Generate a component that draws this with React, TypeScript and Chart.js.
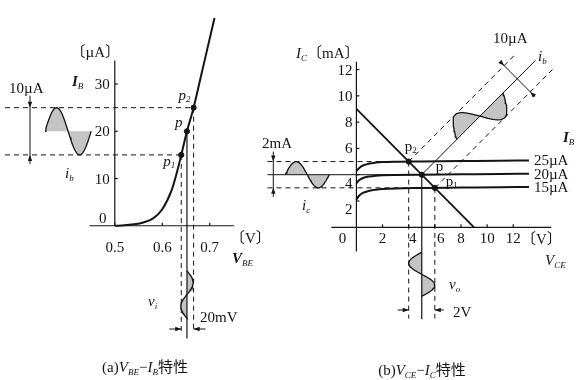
import { useEffect, useRef } from "react";
import { Chart, registerables } from "chart.js";

Chart.register(...registerables);

// ---------------- (a) VBE – IB characteristic ----------------
const vbeValues = [0.5, 0.52, 0.54, 0.56, 0.58, 0.6, 0.62, 0.63, 0.64, 0.652, 0.666, 0.68, 0.695, 0.71];
const ibValues = [0, 0.08, 0.3, 0.7, 1.5, 3.5, 7.6, 11, 15, 20, 25, 31, 37.5, 44];
const vbeTicks = [0.5, 0.6, 0.7];
const vbeTickLabels = ["0.5", "0.6", "0.7"];
const ibTicks = [10, 20, 30];
const ibQ = 20; // µA
const ibSwing = 5; // µA
const vbeQ = 0.652;
const vbeP1 = 0.64;
const vbeP2 = 0.666;

// ---------------- (b) VCE – IC characteristic ----------------
const vceValues = [0, 0.2, 0.5, 1, 1.5, 2, 3, 5, 8, 11, 13.2];
const ic25 = [4.28, 4.5, 4.7, 4.85, 4.92, 4.96, 4.99, 5.01, 5.04, 5.07, 5.09];
const ic20 = [3.35, 3.58, 3.75, 3.87, 3.93, 3.96, 3.98, 4.0, 4.03, 4.06, 4.08];
const ic15 = [2.1, 2.4, 2.62, 2.78, 2.86, 2.91, 2.96, 2.99, 3.02, 3.05, 3.07];
const curveLabels = ["25µA", "20µA", "15µA"];
const loadLineV = [0, 9];
const loadLineI = [9, 0];
const vceTicks = [2, 4, 6, 8, 10, 12];
const icTicks = [2, 4, 6, 8, 10, 12];
const vceQ = 5, icQ = 4;
const vceP2 = 4, icP2 = 5;
const vceP1 = 6, icP1 = 3;

// ---------------- layout / style ----------------
const W = 586, H = 380;
const LEFT = { ox: 111.7, oy: 226.7, pxX: 483, pxY: 4.85, x0: 0.5 };
const RIGHT = { ox: 357.5, oy: 228.3, pxX: 13.3, pxY: 13.5, x0: 0 };
const INK = "#141414";
const SHADE = "#c4c4c4";
const DASH = [5, 4];
const SERIF = '"Liberation Serif", "DejaVu Serif", "Noto Sans CJK JP", serif';
const FS = 15;
const SUBFS = 9;

function scaleRange(o: typeof LEFT) {
  const xmin = o.x0 - o.ox / o.pxX;
  const ymax = o.oy / o.pxY;
  return { xmin, xmax: xmin + W / o.pxX, ymax, ymin: ymax - H / o.pxY };
}
const RL = scaleRange(LEFT);
const RR = scaleRange(RIGHT);

const pts = (xs: number[], ys: number[]) => xs.map((x, i) => ({ x, y: ys[i] }));

function wave(n: number, f: (t: number, s: number) => { x: number; y: number }) {
  const out: { x: number; y: number }[] = [];
  for (let k = 0; k <= n; k++) {
    const t = k / n;
    out.push(f(t, Math.sin(2 * Math.PI * t)));
  }
  return out;
}
const closed = (w: { x: number; y: number }[]) => [...w, w[0]];

function ds(side: "L" | "R", data: any[], opts: any = {}) {
  return {
    data,
    xAxisID: side === "L" ? "xL" : "xR",
    yAxisID: side === "L" ? "yL" : "yR",
    borderColor: INK,
    backgroundColor: INK,
    borderWidth: 1,
    pointRadius: 0,
    fill: false,
    ...opts,
  };
}

// waveform placements
const ibWaveL = wave(48, (t, s) => ({ x: 0.353 + 0.0973 * t, y: ibQ + ibSwing * s }));
const viWave = wave(48, (t, s) => ({ x: vbeQ + ((vbeP2 - vbeP1) / 2) * s, y: -9.55 - 10.05 * t }));
const icWave = wave(48, (t, s) => ({ x: -5.45 + 3.38 * t, y: icQ + ((icP2 - icP1) / 2) * s }));
const voWave = wave(48, (t, s) => ({ x: vceQ - ((vceP1 - vceP2) / 2) * s, y: -1.9 - 3.35 * t }));
const ibWaveR = wave(48, (t, s) => {
  const u = 2.67 + 3.56 * t;
  return { x: vceQ + u - s, y: icQ + u + s };
});

const datasets: any[] = [
  // ---- left
  ds("L", pts(vbeValues, ibValues), { borderWidth: 2, cubicInterpolationMode: "monotone" }),
  ds("L", [{ x: RL.xmin, y: ibQ + ibSwing }, { x: vbeP2, y: ibQ + ibSwing }], { borderDash: DASH }),
  ds("L", [{ x: RL.xmin, y: ibQ - ibSwing }, { x: vbeP1, y: ibQ - ibSwing }], { borderDash: DASH }),
  ds("L", [{ x: vbeP1, y: ibQ - ibSwing }, { x: vbeP1, y: -22.5 }], { borderDash: DASH }),
  ds("L", [{ x: vbeP2, y: ibQ + ibSwing }, { x: vbeP2, y: -22.5 }], { borderDash: DASH }),
  ds("L", [{ x: vbeQ, y: ibQ }, { x: vbeQ, y: -23.9 }], { borderWidth: 1.2 }),
  ds("L", ibWaveL, { borderWidth: 1.3 }),
  ds("L", viWave, { borderWidth: 1.3 }),
  ds("L", pts([vbeP1, vbeQ, vbeP2], [ibQ - ibSwing, ibQ, ibQ + ibSwing]), { showLine: false, pointRadius: 2.6 }),
  // ---- right
  ds("R", pts(vceValues, ic25), { borderWidth: 2, cubicInterpolationMode: "monotone" }),
  ds("R", pts(vceValues, ic20), { borderWidth: 2, cubicInterpolationMode: "monotone" }),
  ds("R", pts(vceValues, ic15), { borderWidth: 2, cubicInterpolationMode: "monotone" }),
  ds("R", pts(loadLineV, loadLineI), { borderWidth: 1.8 }),
  ds("R", [{ x: -6.8, y: icP2 }, { x: vceP2, y: icP2 }], { borderDash: DASH }),
  ds("R", [{ x: -6.8, y: icQ }, { x: vceQ, y: icQ }], { borderWidth: 1 }),
  ds("R", [{ x: -6.8, y: icP1 }, { x: vceP1, y: icP1 }], { borderDash: DASH }),
  ds("R", [{ x: vceP2, y: icP2 }, { x: vceP2, y: -6.94 }], { borderDash: DASH }),
  ds("R", [{ x: vceP1, y: icP1 }, { x: vceP1, y: -6.94 }], { borderDash: DASH }),
  ds("R", [{ x: vceQ, y: icQ }, { x: vceQ, y: -7.0 }], { borderWidth: 1.2 }),
  ds("R", [{ x: vceQ, y: icQ }, { x: vceQ + 8.7, y: icQ + 8.7 }], { borderWidth: 1 }),
  ds("R", [{ x: vceP2, y: icP2 }, { x: vceP2 + 8.2, y: icP2 + 8.2 }], { borderDash: DASH }),
  ds("R", [{ x: vceP1, y: icP1 }, { x: vceP1 + 9.0, y: icP1 + 9.0 }], { borderDash: DASH }),
  ds("R", icWave, { borderWidth: 1.3 }),
  ds("R", voWave, { borderWidth: 1.3 }),
  ds("R", ibWaveR, { borderWidth: 1.3 }),
  ds("R", pts([vceP2, vceQ, vceP1], [icP2, icQ, icP1]), { showLine: false, pointRadius: 2.6 }),
  // ---- shaded lobes (drawn underneath)
  ds("L", closed(ibWaveL), { borderWidth: 0, fill: "shape", backgroundColor: SHADE, order: 10 }),
  ds("L", closed(viWave), { borderWidth: 0, fill: "shape", backgroundColor: SHADE, order: 10 }),
  ds("R", closed(icWave), { borderWidth: 0, fill: "shape", backgroundColor: SHADE, order: 10 }),
  ds("R", closed(voWave), { borderWidth: 0, fill: "shape", backgroundColor: SHADE, order: 10 }),
  ds("R", closed(ibWaveR), { borderWidth: 0, fill: "shape", backgroundColor: SHADE, order: 10 }),
];

type Seg = { t: string; size?: number; style?: string; weight?: string; dy?: number };
const it = (t: string, weight = "normal"): Seg => ({ t, style: "italic", weight });
const sub = (t: string): Seg => ({ t, style: "italic", size: SUBFS, dy: 2.5 });
const rm = (t: string, size = FS): Seg => ({ t, size });

function rich(ctx: CanvasRenderingContext2D, x: number, y: number, segs: Seg[], align = "left") {
  const fonts = segs.map((s) => `${s.style || "normal"} ${s.weight || "normal"} ${s.size || FS}px ${SERIF}`);
  let w = 0;
  segs.forEach((s, i) => {
    ctx.font = fonts[i];
    w += ctx.measureText(s.t).width;
  });
  let cx = align === "center" ? x - w / 2 : align === "right" ? x - w : x;
  ctx.textAlign = "left";
  ctx.textBaseline = "alphabetic";
  segs.forEach((s, i) => {
    ctx.font = fonts[i];
    ctx.fillText(s.t, cx, y + (s.dy || 0));
    cx += ctx.measureText(s.t).width;
  });
}

function seg(ctx: CanvasRenderingContext2D, x1: number, y1: number, x2: number, y2: number) {
  ctx.beginPath();
  ctx.moveTo(x1, y1);
  ctx.lineTo(x2, y2);
  ctx.stroke();
}
function head(ctx: CanvasRenderingContext2D, tx: number, ty: number, dx: number, dy: number) {
  const n = Math.hypot(dx, dy);
  dx /= n;
  dy /= n;
  const len = 6, half = 2.2;
  const bx = tx - dx * len, by = ty - dy * len;
  ctx.beginPath();
  ctx.moveTo(tx, ty);
  ctx.lineTo(bx - dy * half, by + dx * half);
  ctx.lineTo(bx + dy * half, by - dx * half);
  ctx.closePath();
  ctx.fill();
}

const diagramPlugin = {
  id: "diagram",
  afterDatasetsDraw(chart: any) {
    const { ctx, scales } = chart;
    const xl = (v: number) => scales.xL.getPixelForValue(v);
    const yl = (v: number) => scales.yL.getPixelForValue(v);
    const xr = (v: number) => scales.xR.getPixelForValue(v);
    const yr = (v: number) => scales.yR.getPixelForValue(v);
    ctx.save();
    ctx.strokeStyle = INK;
    ctx.fillStyle = INK;
    ctx.lineWidth = 1.2;

    // ===== left axes
    seg(ctx, xl(0.4468), yl(0), xl(0.751), yl(0));
    seg(ctx, xl(0.5), yl(0), xl(0.5), yl(35));
    vbeTicks.forEach((v) => seg(ctx, xl(v), yl(0), xl(v), yl(0) - 3));
    ibTicks.forEach((v) => seg(ctx, xl(0.5), yl(v), xl(0.5) + 3, yl(v)));
    ibTicks.forEach((v) => rich(ctx, xl(0.5) - 5, yl(v) + 5, [rm(String(v))], "right"));
    vbeTicks.forEach((v, i) => rich(ctx, xl(v), yl(0) + 26, [rm(vbeTickLabels[i])], "center"));
    rich(ctx, xl(0.5) - 12, yl(0) - 3, [rm("0")], "center");
    rich(ctx, 120, 57, [rm("〔µA〕")], "right");
    rich(ctx, 72, 86, [it("I", "bold"), sub("B")]);
    rich(ctx, 230, 243, [rm("〔V〕")]);
    rich(ctx, 232, 263, [it("V", "bold"), sub("BE")]);
    rich(ctx, 9, 93, [rm("10µA")]);
    rich(ctx, 65, 178, [it("i"), sub("b")]);
    rich(ctx, xl(vbeP2) - 15, yl(ibQ + ibSwing) - 8, [it("p"), sub("2")]);
    rich(ctx, xl(vbeQ) - 12, yl(ibQ) - 4, [it("p")]);
    rich(ctx, xl(vbeP1) - 18, yl(ibQ - ibSwing) + 11, [it("p"), sub("1")]);
    rich(ctx, 148, 306, [it("v"), sub("i")]);
    rich(ctx, 200, 322, [rm("20mV")]);
    rich(ctx, 145, 372, [rm("(a)"), it("V"), sub("BE"), rm("−"), it("I"), sub("B"), rm("特性")], "center");

    // left dimension arrows
    ctx.lineWidth = 1;
    const ax = 30;
    seg(ctx, ax, yl(ibQ + ibSwing) - 12, ax, yl(ibQ - ibSwing) + 9);
    head(ctx, ax, yl(ibQ + ibSwing), 0, 1);
    head(ctx, ax, yl(ibQ - ibSwing), 0, -1);
    const ay = 329;
    seg(ctx, xl(vbeP1) - 12, ay, xl(vbeP1), ay);
    seg(ctx, xl(vbeP2), ay, xl(vbeP2) + 12, ay);
    head(ctx, xl(vbeP1), ay, 1, 0);
    head(ctx, xl(vbeP2), ay, -1, 0);

    // ===== right axes
    ctx.lineWidth = 1.2;
    seg(ctx, xr(-1.92), yr(0), xr(14.9), yr(0));
    seg(ctx, xr(0), yr(-1.85), xr(0), yr(12.6));
    vceTicks.forEach((v) => seg(ctx, xr(v), yr(0), xr(v), yr(0) - 3));
    icTicks.forEach((v) => seg(ctx, xr(0), yr(v), xr(0) + 3, yr(v)));
    const yNudge: Record<number, number> = { 4: 8, 2: 8 };
    const xNudge: Record<number, number> = { 4: 4, 6: 6 };
    icTicks.forEach((v) => rich(ctx, xr(0) - 4, yr(v) + 5 + (yNudge[v] || 0), [rm(String(v))], "right"));
    vceTicks.forEach((v) => rich(ctx, xr(v) + (xNudge[v] || 0), yr(0) + 16, [rm(String(v))], "center"));
    rich(ctx, xr(0) - 14, yr(0) + 16, [rm("0")], "center");
    rich(ctx, 296, 58, [it("I"), sub("C"), rm("〔mA〕")]);
    rich(ctx, 521, 244, [rm("〔V〕")]);
    rich(ctx, 545, 265, [it("V"), sub("CE")]);
    rich(ctx, 277, 148, [rm("2mA")], "center");
    rich(ctx, 302, 210, [it("i"), sub("c")]);
    rich(ctx, 493, 43, [rm("10µA")]);
    rich(ctx, 538, 61, [it("i"), sub("b")]);
    rich(ctx, 563, 142, [it("I", "bold"), sub("B")]);
    [ic25, ic20, ic15].forEach((c, i) =>
      rich(ctx, xr(vceValues[vceValues.length - 1]) + 5, yr(c[c.length - 1]) + 5, [rm(curveLabels[i])])
    );
    rich(ctx, xr(vceP2) - 4, yr(icP2) - 11, [rm("p"), { t: "2", size: SUBFS, dy: 2.5 }]);
    rich(ctx, xr(vceQ) + 14, yr(icQ) - 4, [rm("p")]);
    rich(ctx, xr(vceP1) + 11, yr(icP1) - 2, [rm("p"), { t: "1", size: SUBFS, dy: 2.5 }]);
    rich(ctx, 449, 289, [it("v"), sub("o")]);
    rich(ctx, 453, 317, [rm("2V")]);
    rich(ctx, 422, 375, [rm("(b)"), it("V"), sub("CE"), rm("−"), it("I"), sub("C"), rm("特性")], "center");

    // right dimension arrows
    ctx.lineWidth = 1;
    const bx = 273.3;
    seg(ctx, bx, yr(icP2) - 10, bx, yr(icP1) + 9);
    head(ctx, bx, yr(icP2), 0, 1);
    head(ctx, bx, yr(icP1), 0, -1);
    const by = 310;
    seg(ctx, xr(vceP2) - 11, by, xr(vceP2), by);
    seg(ctx, xr(vceP1), by, xr(vceP1) + 9, by);
    head(ctx, xr(vceP2), by, 1, 0);
    head(ctx, xr(vceP1), by, -1, 0);
    // perpendicular 10µA dimension across the ib axis
    const c = { x: vceQ + 7.3, y: icQ + 7.3 };
    const P = (k: number) => [xr(c.x - k), yr(c.y + k)];
    const [e1x, e1y] = P(1.15), [e2x, e2y] = P(-1.35);
    seg(ctx, e1x, e1y, e2x, e2y);
    const [t1x, t1y] = P(1), [t2x, t2y] = P(-1);
    const [cx, cy] = P(0);
    head(ctx, t1x, t1y, cx - t1x, cy - t1y);
    head(ctx, t2x, t2y, cx - t2x, cy - t2y);

    ctx.restore();
  },
};

export default function App() {
  const ref = useRef<HTMLCanvasElement>(null);
  useEffect(() => {
    const chart = new Chart(ref.current!, {
      type: "line",
      data: { datasets },
      options: {
        animation: false,
        responsive: false,
        events: [],
        layout: { padding: 0 },
        elements: { point: { radius: 0 } },
        plugins: { legend: { display: false }, tooltip: { enabled: false }, title: { display: false } },
        scales: {
          xL: { type: "linear", min: RL.xmin, max: RL.xmax, display: false },
          yL: { type: "linear", min: RL.ymin, max: RL.ymax, display: false },
          xR: { type: "linear", min: RR.xmin, max: RR.xmax, display: false },
          yR: { type: "linear", min: RR.ymin, max: RR.ymax, display: false },
        },
      } as any,
      plugins: [diagramPlugin],
    });
    return () => chart.destroy();
  }, []);
  return (
    <div style={{ position: "fixed", left: 0, top: 0, width: W, height: H, background: "#fff" }}>
      <canvas ref={ref} width={W} height={H} style={{ display: "block" }} />
    </div>
  );
}
